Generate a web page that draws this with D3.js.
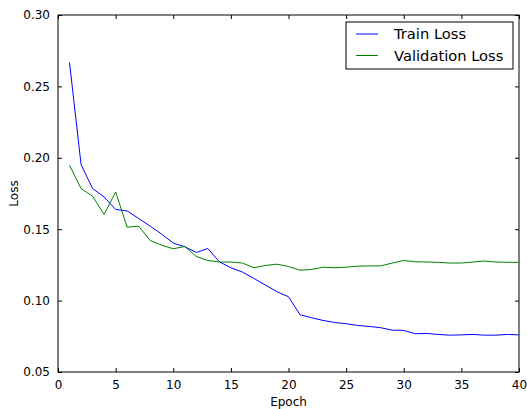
<!DOCTYPE html>
<html>
<head>
<meta charset="utf-8">
<script src="https://cdn.jsdelivr.net/npm/d3@7"></script>
<style>
  body { margin: 0; background: #fff; }
  text { font-family: "DejaVu Sans", sans-serif; fill: #000; }
</style>
</head>
<body>
<div id="chart"></div>
<script>
// data
const epochs = d3.range(1, 41);
const trainLoss = [0.2667, 0.1953, 0.1785, 0.1726, 0.1638, 0.1628, 0.1575, 0.1521, 0.1465, 0.1403,
    0.1377, 0.1337, 0.1365, 0.1272, 0.1230, 0.1200, 0.1155, 0.1109, 0.1062, 0.1027,
    0.0901, 0.0880, 0.0861, 0.0847, 0.0838, 0.0826, 0.0819, 0.0810, 0.0793, 0.0791,
    0.0768, 0.0770, 0.0763, 0.0758, 0.0760, 0.0763, 0.0758, 0.0758, 0.0763, 0.0760];
const valLoss = [0.1948, 0.1785, 0.1731, 0.1603, 0.1761, 0.1514, 0.1521, 0.1421, 0.1388, 0.1363,
    0.1379, 0.1309, 0.1281, 0.1270, 0.1270, 0.1263, 0.1230, 0.1246, 0.1255, 0.1239,
    0.1213, 0.1218, 0.1234, 0.1230, 0.1234, 0.1241, 0.1243, 0.1243, 0.1263, 0.1281,
    0.1272, 0.1270, 0.1268, 0.1263, 0.1263, 0.1270, 0.1277, 0.1270, 0.1268, 0.1268];
const xTicks = [0, 5, 10, 15, 20, 25, 30, 35, 40];
const yTicks = [0.05, 0.10, 0.15, 0.20, 0.25, 0.30];
const seriesNames = ["Train Loss", "Validation Loss"];
const seriesColors = ["#0000ff", "#008000"];

// set the dimensions and margins of the graph
const margin = { top: 15, right: 8, bottom: 37, left: 58 },
    width = 527 - margin.left - margin.right,
    height = 409 - margin.top - margin.bottom;

const svg = d3.select("#chart")
    .append("svg")
    .attr("width", 527)
    .attr("height", 409)
    .append("g")
    .attr("transform", `translate(${margin.left},${margin.top})`);

const x = d3.scaleLinear().domain([0, 40]).range([0, width]);
const y = d3.scaleLinear().domain([0.05, 0.30]).range([height, 0]);

// axes with inward ticks on all four sides
const fmt = d3.format(".2f");
const axBottom = svg.append("g")
    .attr("transform", `translate(0,${height})`)
    .call(d3.axisBottom(x).tickValues(xTicks).tickSizeInner(-4).tickSizeOuter(0).tickPadding(8));
const axLeft = svg.append("g")
    .call(d3.axisLeft(y).tickValues(yTicks).tickFormat(fmt).tickSizeInner(-4).tickSizeOuter(0).tickPadding(8));
const axTop = svg.append("g")
    .call(d3.axisTop(x).tickValues(xTicks).tickSizeInner(-4).tickSizeOuter(0).tickFormat(""));
const axRight = svg.append("g")
    .attr("transform", `translate(${width},0)`)
    .call(d3.axisRight(y).tickValues(yTicks).tickSizeInner(-4).tickSizeOuter(0).tickFormat(""));

[axBottom, axLeft, axTop, axRight].forEach(g => {
    g.select(".domain").remove();
    g.selectAll("line").attr("stroke", "#000");
    g.selectAll("text").style("font-size", "12px").attr("font-family", "DejaVu Sans");
});

// frame
svg.append("rect")
    .attr("width", width)
    .attr("height", height)
    .attr("fill", "none")
    .attr("stroke", "#000")
    .attr("stroke-width", 1);

// lines
const line = d3.line()
    .x((d, i) => x(epochs[i]))
    .y(d => y(d));

[trainLoss, valLoss].forEach((series, k) => {
    svg.append("path")
        .datum(series)
        .attr("fill", "none")
        .attr("stroke", seriesColors[k])
        .attr("stroke-width", 1)
        .attr("d", line);
});

// axis labels
svg.append("text")
    .attr("x", width / 2)
    .attr("y", height + 34)
    .attr("text-anchor", "middle")
    .style("font-size", "12px")
    .text("Epoch");

svg.append("text")
    .attr("transform", `translate(${-40},${height / 2}) rotate(-90)`)
    .attr("text-anchor", "middle")
    .style("font-size", "12px")
    .text("Loss");

// legend
const legend = svg.append("g")
    .attr("transform", `translate(${346 - margin.left},${22 - margin.top})`);
legend.append("rect")
    .attr("width", 167)
    .attr("height", 47)
    .attr("fill", "#fff")
    .attr("stroke", "#000")
    .attr("stroke-width", 1);
seriesNames.forEach((name, i) => {
    const gy = 12 + i * 21.5;
    legend.append("line")
        .attr("x1", 10).attr("x2", 32)
        .attr("y1", gy).attr("y2", gy)
        .attr("stroke", seriesColors[i])
        .attr("stroke-width", 1);
    legend.append("text")
        .attr("x", 48)
        .attr("y", gy + 5.3)
        .style("font-size", "14.7px")
        .text(name);
});
</script>
</body>
</html>
